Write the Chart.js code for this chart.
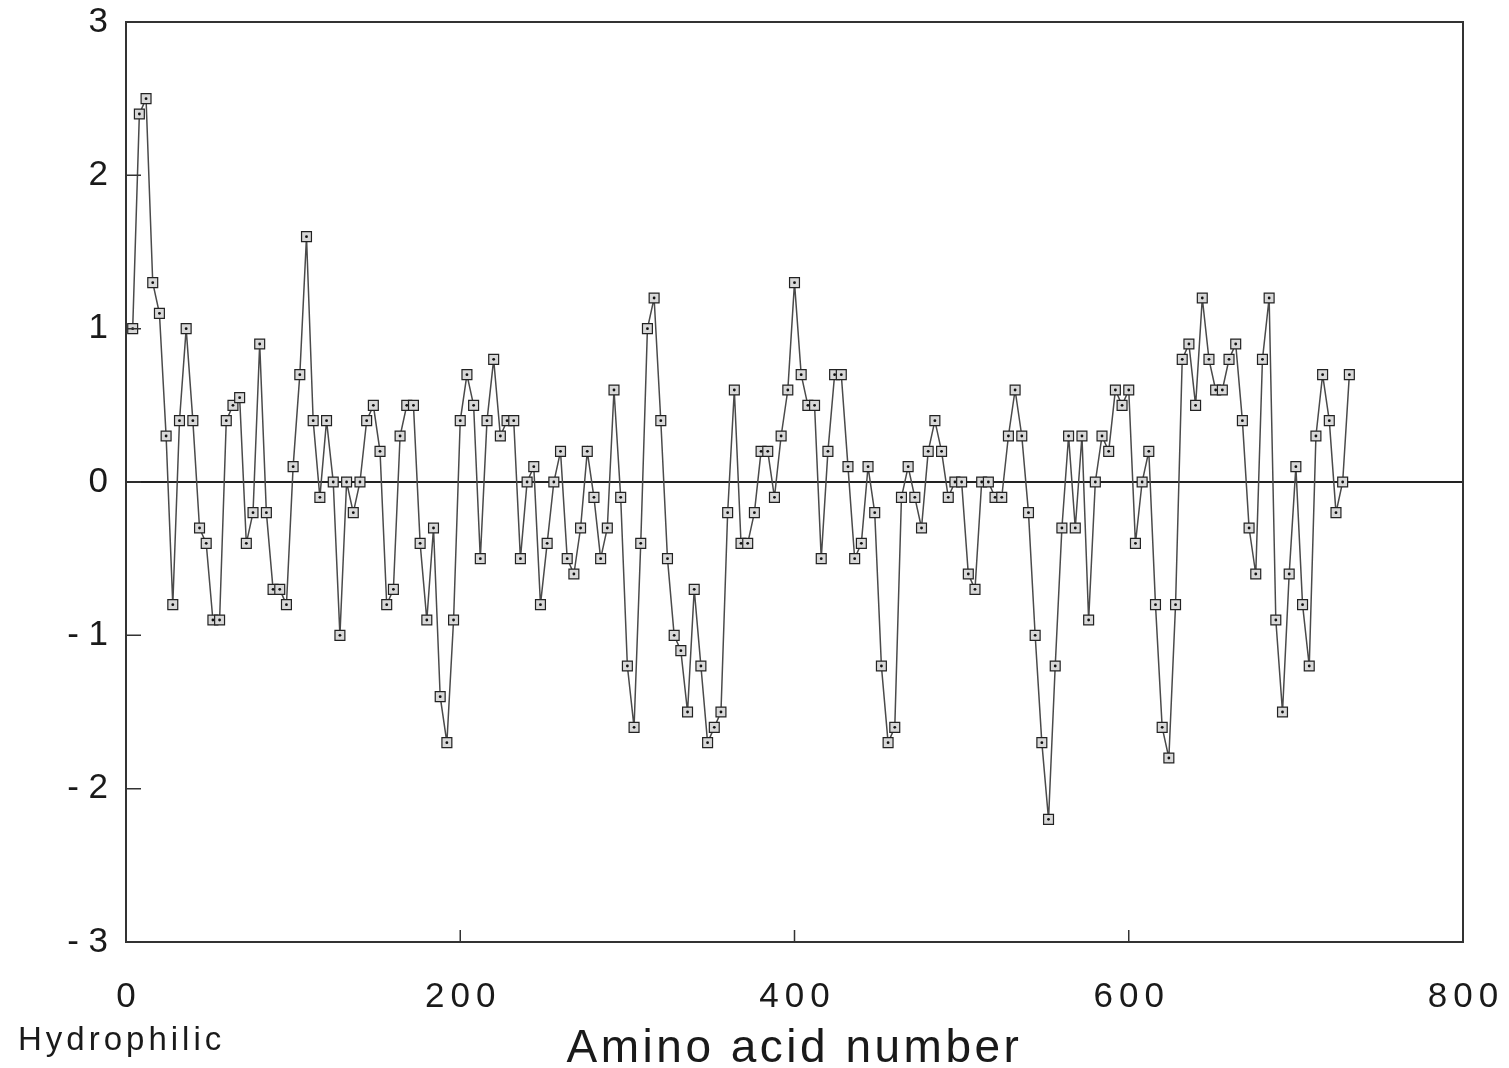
<!DOCTYPE html>
<html>
<head>
<meta charset="utf-8">
<script src="https://cdn.jsdelivr.net/npm/chart.js@4.4.1/dist/chart.umd.min.js"></script>
<style>
    html, body { margin: 0; padding: 0; background: #fff; }
    #wrap { width: 1509px; height: 1068px; }
</style>
</head>
<body>
<div id="wrap"><canvas id="hydroChart" width="1509" height="1068"></canvas></div>
<script>
// amino acid position of each window (x) and hydropathy value (y)
var aminoPos = [
    4, 8, 12, 16, 20, 24, 28, 32, 36, 40, 44, 48, 52, 56, 60, 64, 68, 72, 76, 80,
    84, 88, 92, 96, 100, 104, 108, 112, 116, 120, 124, 128, 132, 136, 140, 144, 148, 152, 156, 160,
    164, 168, 172, 176, 180, 184, 188, 192, 196, 200, 204, 208, 212, 216, 220, 224, 228, 232, 236, 240,
    244, 248, 252, 256, 260, 264, 268, 272, 276, 280, 284, 288, 292, 296, 300, 304, 308, 312, 316, 320,
    324, 328, 332, 336, 340, 344, 348, 352, 356, 360, 364, 368, 372, 376, 380, 384, 388, 392, 396, 400,
    404, 408, 412, 416, 420, 424, 428, 432, 436, 440, 444, 448, 452, 456, 460, 464, 468, 472, 476, 480,
    484, 488, 492, 496, 500, 504, 508, 512, 516, 520, 524, 528, 532, 536, 540, 544, 548, 552, 556, 560,
    564, 568, 572, 576, 580, 584, 588, 592, 596, 600, 604, 608, 612, 616, 620, 624, 628, 632, 636, 640,
    644, 648, 652, 656, 660, 664, 668, 672, 676, 680, 684, 688, 692, 696, 700, 704, 708, 712, 716, 720,
    724, 728, 732
];
var hydropathy = [
    1.0, 2.4, 2.5, 1.3, 1.1, 0.3, -0.8, 0.4, 1.0, 0.4, -0.3, -0.4, -0.9, -0.9, 0.4, 0.5, 0.55, -0.4, -0.2, 0.9,
    -0.2, -0.7, -0.7, -0.8, 0.1, 0.7, 1.6, 0.4, -0.1, 0.4, 0.0, -1.0, 0.0, -0.2, 0.0, 0.4, 0.5, 0.2, -0.8, -0.7,
    0.3, 0.5, 0.5, -0.4, -0.9, -0.3, -1.4, -1.7, -0.9, 0.4, 0.7, 0.5, -0.5, 0.4, 0.8, 0.3, 0.4, 0.4, -0.5, 0.0,
    0.1, -0.8, -0.4, 0.0, 0.2, -0.5, -0.6, -0.3, 0.2, -0.1, -0.5, -0.3, 0.6, -0.1, -1.2, -1.6, -0.4, 1.0, 1.2, 0.4,
    -0.5, -1.0, -1.1, -1.5, -0.7, -1.2, -1.7, -1.6, -1.5, -0.2, 0.6, -0.4, -0.4, -0.2, 0.2, 0.2, -0.1, 0.3, 0.6, 1.3,
    0.7, 0.5, 0.5, -0.5, 0.2, 0.7, 0.7, 0.1, -0.5, -0.4, 0.1, -0.2, -1.2, -1.7, -1.6, -0.1, 0.1, -0.1, -0.3, 0.2,
    0.4, 0.2, -0.1, 0.0, 0.0, -0.6, -0.7, 0.0, 0.0, -0.1, -0.1, 0.3, 0.6, 0.3, -0.2, -1.0, -1.7, -2.2, -1.2, -0.3,
    0.3, -0.3, 0.3, -0.9, 0.0, 0.3, 0.2, 0.6, 0.5, 0.6, -0.4, 0.0, 0.2, -0.8, -1.6, -1.8, -0.8, 0.8, 0.9, 0.5,
    1.2, 0.8, 0.6, 0.6, 0.8, 0.9, 0.4, -0.3, -0.6, 0.8, 1.2, -0.9, -1.5, -0.6, 0.1, -0.8, -1.2, 0.3, 0.7, 0.4,
    -0.2, 0.0, 0.7
];

var xTickValues = [0, 200, 400, 600, 800];
var xTickLabels = ['0', '200', '400', '600', '800'];
var yTickValues = [-3, -2, -1, 0, 1, 2, 3];
var yTickLabels = ['- 3', '- 2', '- 1', '0', '1', '2', '3'];
var xTitle = 'Amino acid number';
var cornerNote = 'Hydrophilic';

var FONT = '"Liberation Sans", Arial, Helvetica, sans-serif';
var INK = '#1a1a1a';

var points = aminoPos.map(function(x, i) { return { x: x, y: hydropathy[i] }; });

// box frame, inward tick marks, x labels and titles (letter spaced like the plot)
var framePlugin = {
    id: 'frame',
    afterDatasetsDraw: function(chart) {
        var ctx = chart.ctx;
        var meta = chart.getDatasetMeta(0);
        ctx.save();
        ctx.fillStyle = '#111';
        meta.data.forEach(function(pt) {
            ctx.beginPath();
            ctx.arc(pt.x, pt.y, 1.4, 0, Math.PI * 2);
            ctx.fill();
        });
        ctx.restore();
    },
    afterDraw: function(chart) {
        var ctx = chart.ctx;
        var a = chart.chartArea;
        var xs = chart.scales.x;
        var ys = chart.scales.y;

        ctx.save();
        ctx.strokeStyle = '#333';
        ctx.lineWidth = 2;
        ctx.strokeRect(a.left, a.top, a.right - a.left, a.bottom - a.top);

        ctx.lineWidth = 1.5;
        ctx.beginPath();
        yTickValues.forEach(function(v) {
            var py = ys.getPixelForValue(v);
            ctx.moveTo(a.left, py);
            ctx.lineTo(a.left + 15, py);
        });
        xTickValues.forEach(function(v) {
            var px = xs.getPixelForValue(v);
            ctx.moveTo(px, a.bottom);
            ctx.lineTo(px, a.bottom - 12);
        });
        ctx.stroke();

        ctx.fillStyle = INK;
        ctx.textBaseline = 'alphabetic';
        ctx.textAlign = 'center';
        ctx.font = '35px ' + FONT;
        ctx.letterSpacing = '6px';
        xTickValues.forEach(function(v, i) {
            ctx.fillText(xTickLabels[i], xs.getPixelForValue(v) + 3, a.bottom + 65);
        });

        ctx.font = '46px ' + FONT;
        ctx.letterSpacing = '3.5px';
        ctx.fillText(xTitle, (a.left + a.right) / 2, 1062);

        ctx.textAlign = 'left';
        ctx.font = '33px ' + FONT;
        ctx.letterSpacing = '4px';
        ctx.fillText(cornerNote, 18, 1050);
        ctx.restore();
    }
};

var chart = new Chart(document.getElementById('hydroChart'), {
    type: 'line',
    data: {
        datasets: [{
            data: points,
            borderColor: '#4a4a4a',
            borderWidth: 1.5,
            pointStyle: 'rect',
            pointRadius: 7,
            pointBorderWidth: 1.2,
            pointBorderColor: '#222',
            pointBackgroundColor: '#d8d8d8',
            tension: 0,
            fill: false
        }]
    },
    options: {
        responsive: false,
        animation: false,
        layout: { padding: { top: 22, right: 46, left: 0, bottom: 0 } },
        plugins: {
            legend: { display: false },
            tooltip: { enabled: false },
            title: { display: false }
        },
        scales: {
            x: {
                type: 'linear',
                min: 0,
                max: 800,
                ticks: { display: false, stepSize: 200 },
                grid: { display: false },
                border: { display: false },
                afterFit: function(s) { s.height = 126; }
            },
            y: {
                min: -3,
                max: 3,
                ticks: {
                    stepSize: 1,
                    color: INK,
                    padding: 18,
                    font: { family: FONT, size: 35 },
                    callback: function(v) {
                        var i = yTickValues.indexOf(v);
                        return i >= 0 ? yTickLabels[i] : '';
                    }
                },
                grid: {
                    drawTicks: false,
                    color: function(c) { return c.tick && c.tick.value === 0 ? '#222' : 'rgba(0,0,0,0)'; },
                    lineWidth: 2
                },
                border: { display: false },
                afterFit: function(s) {
                    s.width = 126;
                    s.paddingTop = 0;
                    s.paddingBottom = 0;
                }
            }
        }
    },
    plugins: [framePlugin]
});
</script>
</body>
</html>
